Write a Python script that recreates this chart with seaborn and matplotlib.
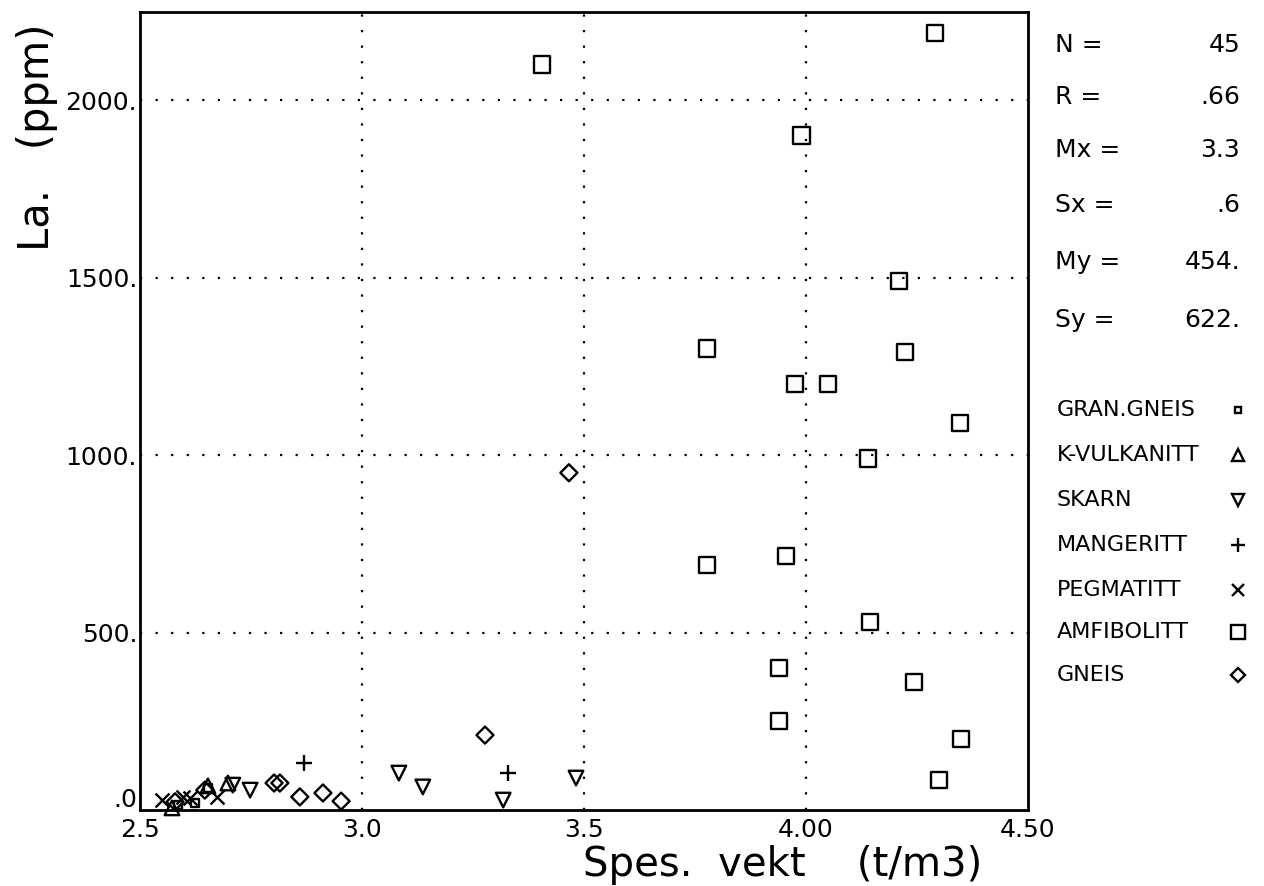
import numpy as np
import pandas as pd
import matplotlib
matplotlib.use("Agg")
import matplotlib.pyplot as plt
import matplotlib.transforms as mtransforms
import seaborn as sns

# Rock groups and their specific gravity (t/m3) / La (ppm) measurements
gran_gneis_x = [2.586, 2.624, 2.653]
gran_gneis_y = [14, 20, 62]

k_vulkanitt_x = [2.572, 2.653, 2.698]
k_vulkanitt_y = [6, 68, 76]

skarn_x = [2.709, 2.748, 3.083, 3.137, 3.318, 3.482]
skarn_y = [70, 56, 104, 65, 28, 90]

mangeritt_x = [2.869, 3.329]
mangeritt_y = [132, 104]

pegmatitt_x = [2.550, 2.597, 2.613, 2.673]
pegmatitt_y = [28, 37, 34, 37]

amfibolitt_x = [3.405, 4.290, 3.990, 4.210, 3.777, 4.223, 3.975, 4.050, 4.347,
                4.140, 3.777, 3.955, 4.144, 3.940, 4.243, 3.940, 4.350, 4.300]
amfibolitt_y = [2100, 2190, 1900, 1490, 1300, 1290, 1200, 1200, 1090,
                990, 690, 715, 530, 400, 360, 250, 200, 85]

gneis_x = [3.466, 3.277, 2.860, 2.912, 2.953, 2.802, 2.815, 2.579, 2.646]
gneis_y = [950, 211, 37, 48, 25, 76, 76, 23, 56]

group_names = ["GRAN.GNEIS", "K-VULKANITT", "SKARN", "MANGERITT",
               "PEGMATITT", "AMFIBOLITT", "GNEIS"]

stat_names = ["N =", "R =", "Mx =", "Sx =", "My =", "Sy ="]
stat_values = ["45", ".66", "3.3", ".6", "454.", "622."]

x_ticks = [2.5, 3.0, 3.5, 4.0, 4.5]
x_tick_labels = ["2.5", "3.0", "3.5", "4.00", "4.50"]
y_ticks = [0, 500, 1000, 1500, 2000]
y_tick_labels = [".0", "500.", "1000.", "1500.", "2000."]

series = {
    "GRAN.GNEIS": (gran_gneis_x, gran_gneis_y),
    "K-VULKANITT": (k_vulkanitt_x, k_vulkanitt_y),
    "SKARN": (skarn_x, skarn_y),
    "MANGERITT": (mangeritt_x, mangeritt_y),
    "PEGMATITT": (pegmatitt_x, pegmatitt_y),
    "AMFIBOLITT": (amfibolitt_x, amfibolitt_y),
    "GNEIS": (gneis_x, gneis_y),
}

frames = [pd.DataFrame({"x": xs, "y": ys, "group": name})
          for name, (xs, ys) in series.items()]
df = pd.concat(frames, ignore_index=True)

# marker, size, filled
marker_style = {
    "GRAN.GNEIS": ("s", 30, True),
    "K-VULKANITT": ("^", 110, True),
    "SKARN": ("v", 110, True),
    "MANGERITT": ("+", 130, False),
    "PEGMATITT": ("x", 100, False),
    "AMFIBOLITT": ("s", 135, True),
    "GNEIS": ("D", 75, True),
}

sns.set_theme(style="white")
plt.rcParams["font.family"] = ["DejaVu Sans"]
plt.rcParams["text.color"] = "black"
plt.rcParams["axes.labelcolor"] = "black"
plt.rcParams["xtick.color"] = "black"
plt.rcParams["ytick.color"] = "black"

fig = plt.figure(figsize=(12.64, 8.86), dpi=100)
ax = fig.add_axes([140 / 1264, 76 / 886, 888 / 1264, 798 / 886])

for name in group_names:
    sub = df[df["group"] == name]
    mk, size, filled = marker_style[name]
    if filled:
        sns.scatterplot(data=sub, x="x", y="y", marker=mk, s=size, ax=ax,
                        facecolor="none", edgecolor="black", linewidth=1.7,
                        clip_on=False, zorder=3)
    else:
        sns.scatterplot(data=sub, x="x", y="y", marker=mk, s=size, ax=ax,
                        color="black", linewidth=1.7, clip_on=False, zorder=3)

ax.set_xlim(2.5, 4.5)
ax.set_ylim(0, 2248)
ax.set_xticks(x_ticks)
ax.set_xticklabels(x_tick_labels, fontsize=18)
ax.set_yticks(y_ticks)
ax.set_yticklabels(y_tick_labels, fontsize=18)
ax.tick_params(axis="y", length=0, pad=2)
ax.tick_params(axis="x", length=0, pad=6)

# lift the zero label above the corner so it clears the x labels
zero_lbl = ax.get_yticklabels()[0]
zero_lbl.set_transform(zero_lbl.get_transform() +
                       mtransforms.ScaledTranslation(0, 9 / 72, fig.dpi_scale_trans))

# dotted grid at the inner tick positions
for xv in x_ticks[1:-1]:
    ax.axvline(xv, color="black", linestyle=(0, (1, 6)), linewidth=1.6, zorder=1)
for yv in y_ticks[1:]:
    ax.axhline(yv, color="black", linestyle=(0, (1, 6)), linewidth=1.6, zorder=1)

for sp in ax.spines.values():
    sp.set_color("black")
    sp.set_linewidth(2)
    sp.set_visible(True)

ax.set_xlabel("Spes.  vekt    (t/m3)", fontsize=29, labelpad=0)
ax.xaxis.set_label_coords(0.724, -0.083, transform=ax.transAxes)
ax.xaxis.label.set_va("baseline")
ax.set_ylabel("La.   (ppm)", fontsize=30)
ax.yaxis.set_label_coords(-0.092, 0.843, transform=ax.transAxes)

# statistics block
stat_rows_y = [45, 97, 150, 205, 262, 320]
for name, val, py in zip(stat_names, stat_values, stat_rows_y):
    fig.text(1055 / 1264, 1 - py / 886, name, fontsize=18, va="center", ha="left")
    fig.text(1240 / 1264, 1 - py / 886, val, fontsize=18, va="center", ha="right")

# group key with marker symbols
key_rows_y = [410, 455, 500, 545, 590, 632, 675]
for name, py in zip(group_names, key_rows_y):
    fig.text(1057 / 1264, 1 - py / 886, name, fontsize=16, va="center", ha="left")
    mk, size, filled = marker_style[name]
    kx, ky = 1238 / 1264, 1 - py / 886
    if filled:
        fig.add_artist(plt.Line2D([kx], [ky], marker=mk, markersize=np.sqrt(size) * 0.85,
                                  markerfacecolor="none", markeredgecolor="black",
                                  markeredgewidth=1.7, linestyle="none",
                                  transform=fig.transFigure))
    else:
        fig.add_artist(plt.Line2D([kx], [ky], marker=mk, markersize=np.sqrt(size) * 0.85,
                                  color="black", markeredgewidth=1.7, linestyle="none",
                                  transform=fig.transFigure))

fig.savefig("out.png", dpi=100, facecolor="white")
